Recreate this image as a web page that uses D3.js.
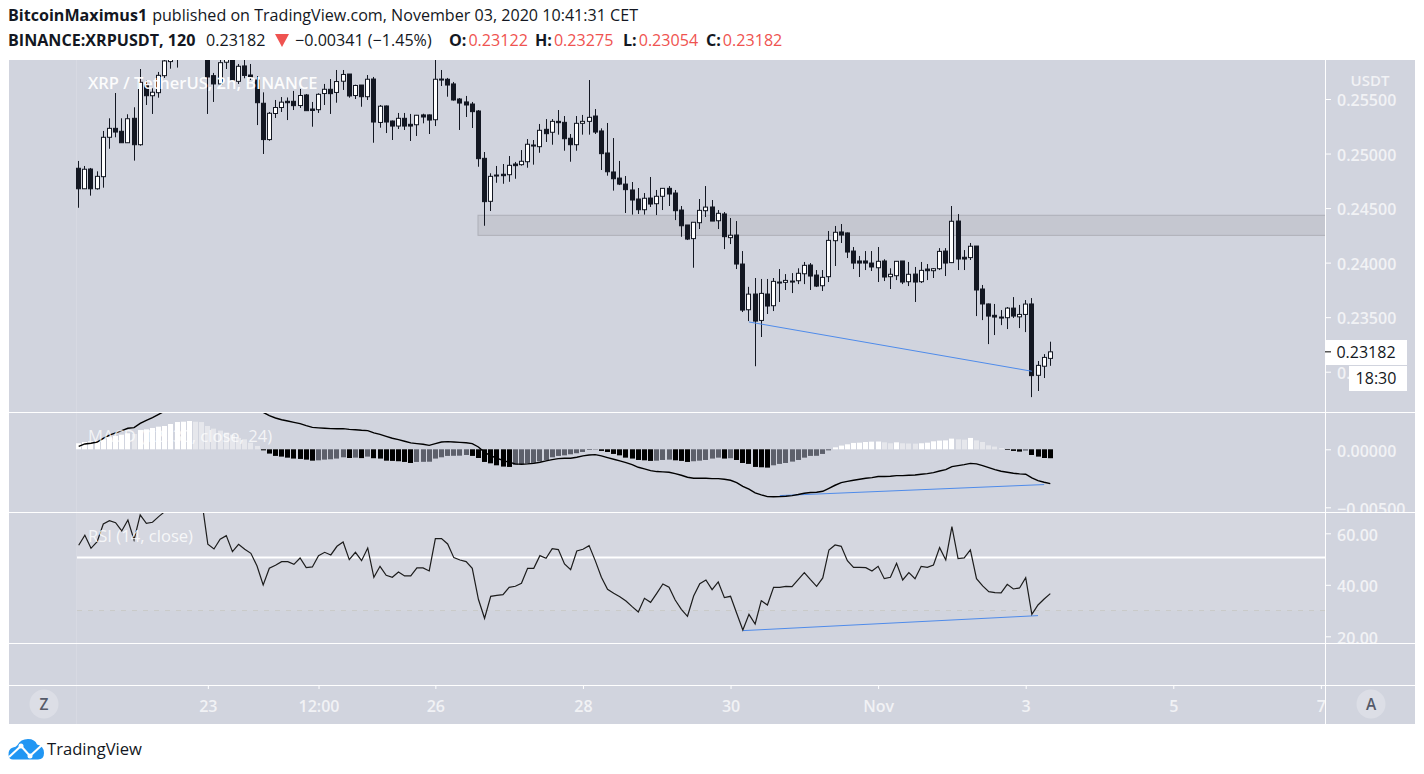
<!DOCTYPE html>
<html>
<head>
<meta charset="utf-8">
<title>XRPUSDT</title>
<script src="https://cdn.jsdelivr.net/npm/d3@7"></script>
<style>
html, body { margin: 0; padding: 0; background: #fff; overflow: hidden; }
svg { display: block; font-family: "Open Sans", "Noto Sans", sans-serif; }
.axis text { fill: #f1f2f5; font-size: 16px; font-weight: 600; font-family: "Open Sans", sans-serif; }
.axis line { stroke: #fff; }
.axis path { display: none; }
</style>
</head>
<body>
<svg id="chart" width="1424" height="774"></svg>
<script>
/* 2h candles. Bars 17-20 sit above the visible pane, so they are rough */
var opens = [
0.24865,0.24677,0.24858,0.24677,0.24788,0.25149,0.25231,0.25204,0.25099,0.25323,
0.25081,0.25628,0.25530,0.25558,0.25714,0.25843,0.25885,0.25931,0.25986,0.25950,
0.25913,0.25931,0.25714,0.25638,0.25837,0.25895,0.25662,0.25803,0.25720,0.25674,
0.25461,0.25128,0.25367,0.25422,0.25479,0.25479,0.25440,0.25537,0.25408,0.25402,
0.25550,0.25589,0.25560,0.25663,0.25729,0.25532,0.25628,0.25521,0.25683,0.25285,
0.25436,0.25298,0.25252,0.25323,0.25268,0.25264,0.25354,0.25354,0.25310,0.25683,
0.25681,0.25638,0.25500,0.25473,0.25454,0.25390,0.24956,0.24562,0.24803,0.24810,
0.24806,0.24904,0.24898,0.24925,0.25078,0.25063,0.25222,0.25195,0.25295,0.25286,
0.25140,0.25081,0.25277,0.25295,0.25344,0.25207,0.25005,0.24831,0.24775,0.24720,
0.24666,0.24583,0.24485,0.24592,0.24540,0.24608,0.24681,0.24638,0.24482,0.24345,
0.24220,0.24366,0.24476,0.24510,0.24384,0.24446,0.24229,0.24253,0.23987,0.23568,
0.23712,0.23470,0.23712,0.23605,0.23822,0.23819,0.23831,0.23834,0.23898,0.23978,
0.23886,0.23788,0.23871,0.24201,0.24281,0.24272,0.24106,0.24015,0.24015,0.23996,
0.23953,0.24015,0.23871,0.23880,0.24015,0.23825,0.23895,0.23825,0.23941,0.23926,
0.23944,0.24106,0.24000,0.24381,0.24049,0.24046,0.24152,0.23758,0.23621,0.23517,
0.23501,0.23495,0.23583,0.23503,0.23525,0.23621,0.22967,0.23050,0.23122];
var highs = [
0.24932,0.24886,0.24868,0.24837,0.25207,0.25323,0.25555,0.25323,0.25360,0.25424,
0.25775,0.25674,0.25598,0.25748,0.25876,0.25913,0.25968,0.26022,0.26040,0.26004,
0.25986,0.25968,0.25739,0.25876,0.25913,0.25931,0.25821,0.25858,0.25821,0.25710,
0.25561,0.25381,0.25491,0.25518,0.25514,0.25574,0.25592,0.25546,0.25473,0.25552,
0.25638,0.25683,0.25766,0.25766,0.25729,0.25631,0.25628,0.25720,0.25702,0.25445,
0.25440,0.25303,0.25372,0.25372,0.25363,0.25354,0.25365,0.25358,0.25876,0.25766,
0.25693,0.25656,0.25509,0.25528,0.25473,0.25399,0.25014,0.24819,0.24886,0.24904,
0.24977,0.24923,0.25032,0.25133,0.25124,0.25271,0.25316,0.25316,0.25399,0.25344,
0.25179,0.25344,0.25354,0.25674,0.25408,0.25231,0.25280,0.25142,0.24932,0.24794,
0.24739,0.24684,0.24638,0.24785,0.24666,0.24684,0.24702,0.24666,0.24519,0.24345,
0.24372,0.24583,0.24702,0.24574,0.24482,0.24464,0.24409,0.24381,0.24106,0.23778,
0.23859,0.23850,0.23850,0.23859,0.23941,0.23895,0.23904,0.23948,0.24006,0.23996,
0.23932,0.23932,0.24290,0.24336,0.24354,0.24276,0.24143,0.24061,0.24106,0.24106,
0.24143,0.24031,0.23948,0.24015,0.24015,0.24006,0.23960,0.24006,0.23987,0.23950,
0.24133,0.24133,0.24519,0.24445,0.24115,0.24180,0.24152,0.23795,0.23625,0.23621,
0.23565,0.23593,0.23684,0.23612,0.23657,0.23675,0.23098,0.23161,0.23275];
var lows = [
0.24503,0.24677,0.24614,0.24669,0.24687,0.25044,0.25149,0.25099,0.25099,0.24935,
0.25072,0.25445,0.25363,0.25512,0.25693,0.25778,0.25788,0.25876,0.25895,0.25876,
0.25876,0.25363,0.25473,0.25628,0.25775,0.25674,0.25638,0.25690,0.25674,0.25261,
0.24996,0.25117,0.25326,0.25381,0.25307,0.25399,0.25418,0.25393,0.25246,0.25372,
0.25445,0.25363,0.25466,0.25583,0.25512,0.25500,0.25429,0.25491,0.25099,0.25237,
0.25188,0.25124,0.25225,0.25216,0.25115,0.25161,0.25277,0.25179,0.25252,0.25619,
0.25521,0.25485,0.25216,0.25335,0.25234,0.24879,0.24338,0.24473,0.24732,0.24723,
0.24741,0.24769,0.24889,0.24870,0.24898,0.25007,0.25106,0.25081,0.25173,0.25026,
0.24925,0.25026,0.25173,0.25173,0.25179,0.24849,0.24797,0.24660,0.24711,0.24455,
0.24440,0.24446,0.24440,0.24510,0.24436,0.24482,0.24519,0.24390,0.24237,0.24207,
0.23953,0.24308,0.24418,0.24381,0.24308,0.24124,0.24170,0.23941,0.23547,0.23464,
0.23050,0.23318,0.23529,0.23556,0.23639,0.23749,0.23721,0.23803,0.23803,0.23749,
0.23776,0.23740,0.23822,0.23969,0.24180,0.24042,0.23941,0.23868,0.23932,0.23923,
0.23822,0.23831,0.23758,0.23840,0.23803,0.23785,0.23639,0.23813,0.23840,0.23859,
0.23932,0.23877,0.23996,0.23932,0.23932,0.24024,0.23510,0.23473,0.23253,0.23336,
0.23427,0.23391,0.23492,0.23400,0.23363,0.22767,0.22823,0.22942,0.23054];
var closes = [
0.24677,0.24856,0.24677,0.24791,0.25149,0.25231,0.25197,0.25099,0.25319,0.25081,
0.25653,0.25530,0.25562,0.25717,0.25849,0.25876,0.25931,0.25986,0.25950,0.25913,
0.25950,0.25702,0.25638,0.25833,0.25876,0.25674,0.25800,0.25716,0.25699,0.25466,
0.25128,0.25369,0.25422,0.25471,0.25466,0.25439,0.25532,0.25393,0.25395,0.25543,
0.25589,0.25549,0.25660,0.25725,0.25528,0.25624,0.25521,0.25681,0.25289,0.25434,
0.25289,0.25252,0.25323,0.25252,0.25252,0.25351,0.25335,0.25307,0.25681,0.25674,
0.25628,0.25491,0.25463,0.25445,0.25384,0.24953,0.24559,0.24791,0.24797,0.24797,
0.24892,0.24889,0.24929,0.25085,0.25072,0.25213,0.25182,0.25295,0.25283,0.25136,
0.25081,0.25277,0.25295,0.25332,0.25197,0.24999,0.24833,0.24769,0.24720,0.24669,
0.24574,0.24485,0.24590,0.24537,0.24608,0.24681,0.24629,0.24476,0.24338,0.24216,
0.24370,0.24479,0.24509,0.24381,0.24452,0.24238,0.24251,0.23987,0.23565,0.23711,
0.23464,0.23718,0.23602,0.23828,0.23816,0.23837,0.23825,0.23902,0.23975,0.23877,
0.23785,0.23865,0.24204,0.24278,0.24253,0.24097,0.23996,0.23996,0.23996,0.23960,
0.24012,0.23868,0.23893,0.24012,0.23822,0.23893,0.23822,0.23929,0.23926,0.23944,
0.24103,0.23996,0.24379,0.24033,0.24033,0.24150,0.23749,0.23621,0.23510,0.23501,
0.23495,0.23583,0.23510,0.23525,0.23620,0.22964,0.23058,0.23131,0.23182];

var macdLine = [
0.00026,0.00046,0.00052,0.00063,0.00095,0.00123,0.00141,0.00161,0.00181,0.00187,
0.00224,0.00250,0.00273,0.00301,0.00330,0.00353,0.00376,0.00399,0.00416,0.00428,
0.00439,0.00445,0.00445,0.00445,0.00439,0.00428,0.00416,0.00399,0.00376,0.00347,
0.00319,0.00290,0.00270,0.00255,0.00244,0.00232,0.00221,0.00204,0.00189,0.00185,
0.00181,0.00178,0.00177,0.00178,0.00172,0.00169,0.00164,0.00161,0.00141,0.00129,
0.00112,0.00095,0.00083,0.00069,0.00055,0.00049,0.00043,0.00034,0.00049,0.00063,
0.00066,0.00063,0.00060,0.00057,0.00049,0.00020,-0.00026,-0.00055,-0.00077,-0.00095,
-0.00112,-0.00126,-0.00129,-0.00126,-0.00121,-0.00112,-0.00100,-0.00089,-0.00080,-0.00077,
-0.00077,-0.00069,-0.00057,-0.00049,-0.00046,-0.00057,-0.00072,-0.00086,-0.00100,-0.00115,
-0.00132,-0.00155,-0.00169,-0.00184,-0.00192,-0.00195,-0.00198,-0.00210,-0.00224,-0.00241,
-0.00250,-0.00250,-0.00250,-0.00253,-0.00253,-0.00258,-0.00267,-0.00287,-0.00319,-0.00344,
-0.00376,-0.00393,-0.00408,-0.00409,-0.00408,-0.00405,-0.00399,-0.00390,-0.00379,-0.00373,
-0.00370,-0.00362,-0.00336,-0.00310,-0.00287,-0.00276,-0.00267,-0.00258,-0.00250,-0.00244,
-0.00235,-0.00235,-0.00232,-0.00227,-0.00227,-0.00224,-0.00221,-0.00215,-0.00210,-0.00201,
-0.00187,-0.00175,-0.00149,-0.00141,-0.00132,-0.00121,-0.00126,-0.00141,-0.00158,-0.00175,
-0.00189,-0.00198,-0.00207,-0.00212,-0.00215,-0.00247,-0.00270,-0.00284,-0.00296];
var macdHist = [
0.00052,0.00063,0.00069,0.00075,0.00086,0.00103,0.00115,0.00126,0.00138,0.00132,
0.00166,0.00172,0.00184,0.00195,0.00201,0.00218,0.00235,0.00238,0.00244,0.00238,
0.00235,0.00201,0.00178,0.00161,0.00144,0.00126,0.00098,0.00086,0.00057,0.00029,
-0.00009,-0.00037,-0.00057,-0.00063,-0.00072,-0.00080,-0.00083,-0.00089,-0.00098,-0.00095,
-0.00089,-0.00086,-0.00080,-0.00069,-0.00075,-0.00072,-0.00076,-0.00063,-0.00077,-0.00080,
-0.00098,-0.00100,-0.00103,-0.00109,-0.00118,-0.00109,-0.00108,-0.00107,-0.00080,-0.00069,
-0.00057,-0.00056,-0.00055,-0.00049,-0.00057,-0.00075,-0.00109,-0.00121,-0.00138,-0.00149,
-0.00152,-0.00135,-0.00129,-0.00123,-0.00118,-0.00103,-0.00092,-0.00069,-0.00057,-0.00052,
-0.00043,-0.00034,-0.00023,-0.00006,-0.00003,-0.00014,-0.00023,-0.00040,-0.00052,-0.00072,
-0.00080,-0.00092,-0.00095,-0.00100,-0.00098,-0.00092,-0.00089,-0.00095,-0.00100,-0.00109,
-0.00103,-0.00098,-0.00092,-0.00080,-0.00072,-0.00080,-0.00077,-0.00092,-0.00118,-0.00126,
-0.00152,-0.00155,-0.00158,-0.00138,-0.00126,-0.00118,-0.00106,-0.00092,-0.00072,-0.00057,
-0.00056,-0.00040,-0.00009,0.00017,0.00032,0.00043,0.00055,0.00057,0.00063,0.00066,
0.00067,0.00060,0.00052,0.00060,0.00052,0.00050,0.00049,0.00052,0.00057,0.00069,
0.00075,0.00077,0.00092,0.00086,0.00083,0.00098,0.00077,0.00063,0.00034,0.00023,
0.00011,-0.00006,-0.00014,-0.00020,-0.00011,-0.00049,-0.00063,-0.00075,-0.00077];

var rsiLine = [
55.34,59.22,54.17,56.76,63.62,64.92,64.14,60.91,65.18,57.41,
67.12,63.88,64.27,66.47,68.41,70.36,71.65,72.30,72.95,73.59,
72.95,55.73,53.92,57.67,59.09,52.88,55.73,53.79,52.23,47.31,
39.94,46.41,47.57,49.00,49.00,47.96,50.42,46.67,46.93,51.33,
52.62,51.59,54.95,56.63,49.77,52.62,49.38,54.30,42.91,47.18,
43.69,42.91,44.98,43.43,43.43,46.54,46.54,45.37,57.93,57.93,
55.86,50.55,49.64,49.00,46.41,34.37,26.99,35.53,35.92,36.18,
39.03,39.42,40.58,46.41,46.41,51.33,50.29,54.05,53.66,48.09,
45.89,53.14,53.79,55.21,49.38,42.91,38.25,36.70,35.40,33.72,
31.52,29.45,34.76,33.20,36.70,40.32,39.03,34.11,30.49,27.77,
35.66,40.45,41.88,38.12,41.10,35.02,35.53,28.93,22.46,28.54,
24.79,33.85,32.17,39.03,39.03,39.42,39.29,42.01,44.72,42.01,
39.42,42.65,53.53,55.47,54.95,49.38,46.80,46.80,46.67,45.37,
47.18,42.39,42.91,48.35,41.88,44.72,42.39,47.18,46.80,47.70,
54.43,49.64,62.59,50.16,50.42,53.53,42.39,39.55,37.35,36.96,
36.83,40.19,38.38,38.77,42.78,28.54,32.17,34.50,36.57];

/* zone and hand drawn lines: [bar, value] */
var zoneBars = [65, 158];
var zonePrices = [0.24434, 0.24250];
var priceTrendBars = [109, 155];
var priceTrendValues = [0.23456, 0.23004];
var macdTrendBars = [114, 157];
var macdTrendValues = [-0.00399, -0.00304];
var rsiTrendBars = [108, 156];
var rsiTrendValues = [22.20, 28.03];

var priceTicks = [0.23, 0.235, 0.24, 0.245, 0.25, 0.255];
var macdTicks = [0, -0.005];
var rsiTicks = [20, 40, 60];
var rsiBandLine = 50.6;
var rsiDashLine = 30;
var timeBars = [21, 39, 58, 82, 106, 130, 154, 178, 202];
var timeLabels = ["23", "12:00", "26", "28", "30", "Nov", "3", "5", "7"];
var lastPrice = "0.23182";
var countdown = "18:30";

var svg = d3.select("#chart");
var bg = "#d1d4de", dark = "#131722", red = "#ef5350", blue = "#4f8bea";
var left = 9, right = 1415, top_ = 60, axisX = 1325, bottom = 724;
var sep1 = 412, sep2 = 512, sep3 = 643, sep4 = 685;

var x = d3.scaleLinear().domain([0, 158]).range([78.7, 1050.3]);
var yPrice = d3.scaleLinear().domain([0.23, 0.255]).range([371.7, 99]);
var yMacd = d3.scaleLinear().domain([-0.005, 0]).range([507.3, 449.3]);
var yRsi = d3.scaleLinear().domain([20, 60]).range([636.3, 533.3]);

function px(i){ return Math.floor(x(i)) + 0.5; }

function addClip(id, x0, y0, w, h){
    svg.append("clipPath").attr("id", id).append("rect")
        .attr("x", x0).attr("y", y0).attr("width", w).attr("height", h);
}
addClip("pricePane", left, top_, axisX - left, sep1 - top_);
addClip("macdPane", left, sep1, axisX - left, sep2 - sep1);
addClip("rsiPane", left, sep2, axisX - left, sep3 - sep2);
addClip("macdAxis", axisX, sep1, right - axisX, sep2 - sep1);
addClip("rsiAxis", axisX, sep2, right - axisX, sep3 - sep2);

/* header */
var head1 = svg.append("text").attr("x", 8).attr("y", 21).attr("font-size", 16.1).attr("fill", dark);
head1.append("tspan").attr("font-weight", 700).text("BitcoinMaximus1");
head1.append("tspan").attr("dx", 5).text("published on TradingView.com, November 03, 2020 10:41:31 CET");

var head2 = svg.append("text").attr("y", 46).attr("font-size", 16.1).attr("fill", dark);
head2.append("tspan").attr("x", 8).attr("font-weight", 700).text("BINANCE:XRPUSDT, 120");
head2.append("tspan").attr("x", 206).text("0.23182");
head2.append("tspan").attr("x", 295).text("\u22120.00341 (\u22121.45%)");
[["O:", "0.23122", 449], ["H:", "0.23275", 535], ["L:", "0.23054", 623], ["C:", "0.23182", 706]].forEach(function(d){
    head2.append("tspan").attr("x", d[2]).attr("font-weight", 700).text(d[0]);
    head2.append("tspan").attr("fill", red).attr("dx", 2).text(d[1]);
});
svg.append("path").attr("d", "M275,34H289L282,47Z").attr("fill", red);

/* panel background */
svg.append("rect").attr("x", left).attr("y", top_).attr("width", right - left).attr("height", bottom - top_).attr("fill", bg);

/* rsi band, dashed level */
svg.append("rect").attr("x", 77).attr("y", sep2).attr("width", axisX - 77)
    .attr("height", yRsi(rsiDashLine) - sep2).attr("fill", "#d5d7e0");
svg.append("line").attr("x1", 76.5).attr("x2", 76.5).attr("y1", top_).attr("y2", bottom).attr("stroke", "#d7d9e2");
svg.append("line").attr("x1", 77).attr("x2", axisX).attr("y1", yRsi(rsiDashLine)).attr("y2", yRsi(rsiDashLine))
    .attr("stroke", "#c9cac8").attr("stroke-dasharray", "5 6");
svg.append("line").attr("x1", 77).attr("x2", axisX).attr("y1", yRsi(rsiBandLine)).attr("y2", yRsi(rsiBandLine))
    .attr("stroke", "#fff").attr("stroke-width", 2);

/* price pane */
var pricePane = svg.append("g").attr("clip-path", "url(#pricePane)");
pricePane.append("rect")
    .attr("x", px(zoneBars[0]) - 0.5).attr("width", axisX - px(zoneBars[0]) + 3)
    .attr("y", yPrice(zonePrices[0])).attr("height", yPrice(zonePrices[1]) - yPrice(zonePrices[0]))
    .attr("fill", "#c5c7d0").attr("stroke", "#aeb0b8");

var bars = d3.range(opens.length);
pricePane.selectAll("line.wick").data(bars).enter().append("line")
    .attr("class", "wick")
    .attr("x1", px).attr("x2", px)
    .attr("y1", function(i){ return yPrice(highs[i]); })
    .attr("y2", function(i){ return yPrice(lows[i]); })
    .attr("stroke", dark);
pricePane.selectAll("rect.body").data(bars).enter().append("rect")
    .attr("class", "body")
    .attr("x", function(i){ return px(i) - 2; })
    .attr("width", 4)
    .attr("y", function(i){ return yPrice(Math.max(opens[i], closes[i])); })
    .attr("height", function(i){ return Math.max(1, Math.abs(yPrice(opens[i]) - yPrice(closes[i]))); })
    .attr("fill", function(i){ return closes[i] >= opens[i] ? "#fff" : dark; })
    .attr("stroke", dark);

function trend(pane, xs, ys, scale){
    pane.append("line")
        .attr("x1", x(xs[0])).attr("x2", x(xs[1]))
        .attr("y1", scale(ys[0])).attr("y2", scale(ys[1]))
        .attr("stroke", blue);
}
trend(pricePane, priceTrendBars, priceTrendValues, yPrice);

/* macd pane: same four colours as the original histogram */
var macdPane = svg.append("g").attr("clip-path", "url(#macdPane)");
macdPane.selectAll("rect").data(bars).enter().append("rect")
    .attr("x", function(i){ return px(i) - 2.5; })
    .attr("width", 5)
    .attr("y", function(i){ return Math.min(yMacd(0), yMacd(macdHist[i])); })
    .attr("height", function(i){ return Math.abs(yMacd(macdHist[i]) - yMacd(0)); })
    .attr("fill", function(i){
        var prev = i > 0 ? macdHist[i-1] : 0;
        if (macdHist[i] >= 0) return macdHist[i] >= prev ? "#ffffff" : "#e6e7ec";
        return macdHist[i] < prev ? "#000000" : "#5d606b";
    });
trend(macdPane, macdTrendBars, macdTrendValues, yMacd);
macdPane.append("path").datum(macdLine)
    .attr("d", d3.line().x(function(d, i){ return x(i); }).y(function(d){ return yMacd(d); }))
    .attr("fill", "none").attr("stroke", "#000").attr("stroke-width", 1.4);

/* rsi pane */
var rsiPane = svg.append("g").attr("clip-path", "url(#rsiPane)");
trend(rsiPane, rsiTrendBars, rsiTrendValues, yRsi);
rsiPane.append("path").datum(rsiLine)
    .attr("d", d3.line().x(function(d, i){ return x(i); }).y(function(d){ return yRsi(d); }))
    .attr("fill", "none").attr("stroke", "#1c1c1c").attr("stroke-width", 1.2);

/* axes */
svg.append("g").attr("class", "axis").attr("transform", "translate(" + axisX + ",0)")
    .call(d3.axisRight(yPrice).tickValues(priceTicks).tickFormat(d3.format(".5f")).tickSize(6).tickPadding(6));
svg.append("g").attr("clip-path", "url(#macdAxis)").append("g").attr("class", "axis").attr("transform", "translate(" + axisX + ",0)")
    .call(d3.axisRight(yMacd).tickValues(macdTicks).tickFormat(d3.format(".5f")).tickSize(6).tickPadding(6));
svg.append("g").attr("clip-path", "url(#rsiAxis)").append("g").attr("class", "axis").attr("transform", "translate(" + axisX + ",0)")
    .call(d3.axisRight(yRsi).tickValues(rsiTicks).tickFormat(d3.format(".2f")).tickSize(6).tickPadding(6));
svg.append("g").attr("class", "axis").attr("transform", "translate(0," + sep4 + ")")
    .call(d3.axisBottom(x).tickValues(timeBars)
        .tickFormat(function(d, i){ return timeLabels[i]; }).tickSize(4).tickPadding(12));
svg.selectAll(".axis text").filter(function(){ return d3.select(this).attr("x") !== null; }).attr("dy", "0.42em");

svg.append("text").attr("x", 1370).attr("y", 86).attr("text-anchor", "middle")
    .attr("font-size", 15).attr("font-weight", 600).attr("fill", "#f1f2f5").text("USDT");

/* separators */
[sep1, sep2, sep3, sep4].forEach(function(yy){
    svg.append("line").attr("x1", left).attr("x2", right).attr("y1", yy + 0.5).attr("y2", yy + 0.5).attr("stroke", "#fff");
});
svg.append("line").attr("x1", axisX + 0.5).attr("x2", axisX + 0.5).attr("y1", top_).attr("y2", bottom).attr("stroke", "#fff");

/* last price and countdown */
svg.append("rect").attr("x", axisX).attr("y", 340).attr("width", 82).attr("height", 25).attr("fill", "#fff");
svg.append("rect").attr("x", 1349).attr("y", 366).attr("width", 58).attr("height", 25).attr("fill", "#fff");
svg.append("line").attr("x1", axisX).attr("x2", axisX + 6).attr("y1", yPrice(closes[closes.length - 1])).attr("y2", yPrice(closes[closes.length - 1])).attr("stroke", "#000");
svg.append("text").attr("x", 1366).attr("y", 358).attr("text-anchor", "middle").attr("font-size", 16).attr("fill", dark).text(lastPrice);
svg.append("text").attr("x", 1376).attr("y", 384).attr("text-anchor", "middle").attr("font-size", 16).attr("fill", dark).text(countdown);

/* pane titles */
svg.append("text").attr("x", 88).attr("y", 89).attr("font-size", 16.5).attr("font-weight", 600).attr("fill", "#fff").attr("fill-opacity", 0.95).text("XRP / TetherUS, 2h, BINANCE");
svg.append("text").attr("x", 88).attr("y", 442).attr("font-size", 16.6).attr("fill", "#fff").attr("fill-opacity", 0.75).text("MACD (12, 30, close, 24)");
svg.append("text").attr("x", 88).attr("y", 542).attr("font-size", 16.6).attr("fill", "#fff").attr("fill-opacity", 0.8).text("RSI (14, close)");

/* scale buttons */
[[44, 704, "Z"], [1371, 704, "A"]].forEach(function(d){
    svg.append("circle").attr("cx", d[0]).attr("cy", d[1]).attr("r", 14.5).attr("fill", "#dcdee6");
    svg.append("text").attr("x", d[0]).attr("y", d[1] + 6).attr("text-anchor", "middle")
        .attr("font-size", 15.5).attr("font-weight", 600).attr("fill", "#555a69").text(d[2]);
});

/* logo */
svg.append("path").attr("fill", "#2196f3")
    .attr("d", "M8.5,755 Q8,749 13,747.5 Q16,747 17.5,745 Q20.5,739 28,739 Q35,739 37,744.5 Q44,746 44,753 Q44,759.5 38,759.5 L13,759.5 Q9,759.5 8.5,755Z");
svg.append("polyline").attr("points", "9,757 21,746 30,756 42,745").attr("fill", "none").attr("stroke", "#fff").attr("stroke-width", 2);
svg.append("circle").attr("cx", 21).attr("cy", 746).attr("r", 2.5).attr("fill", "#fff");
svg.append("circle").attr("cx", 30).attr("cy", 756).attr("r", 2.5).attr("fill", "#fff");
svg.append("text").attr("x", 47).attr("y", 755).attr("font-size", 16.6).attr("fill", dark).text("TradingView");
</script>
</body>
</html>
